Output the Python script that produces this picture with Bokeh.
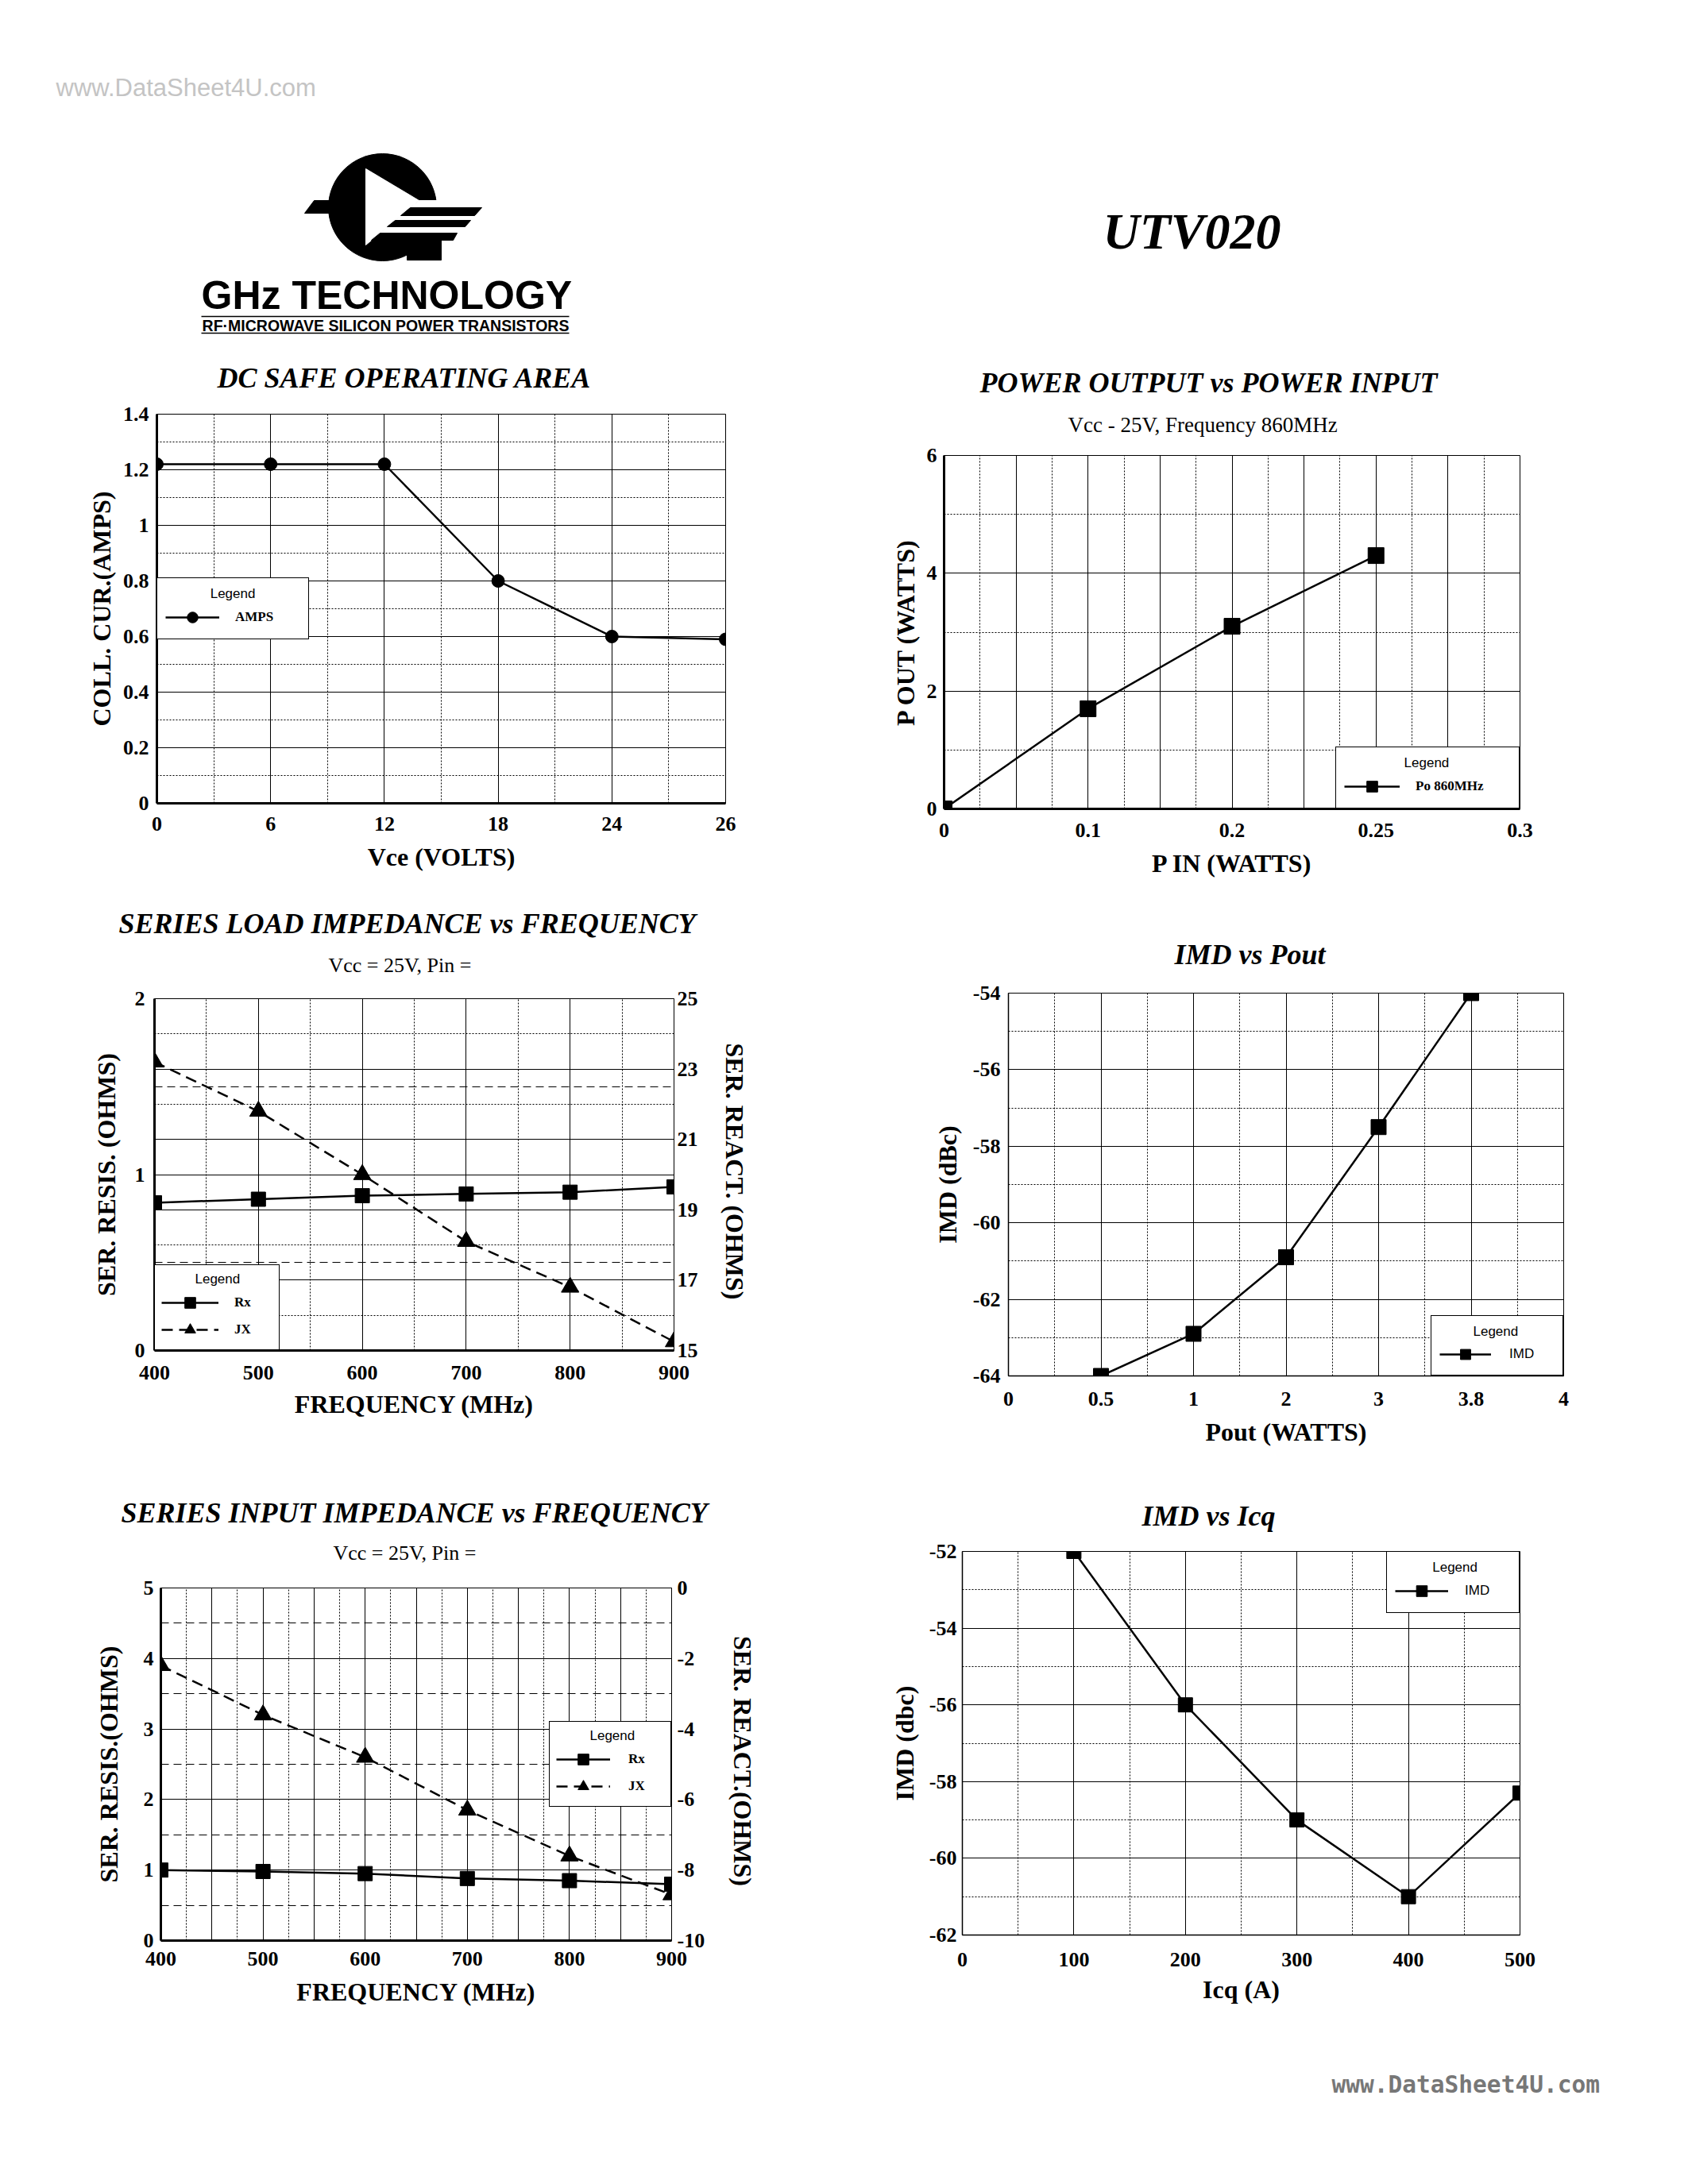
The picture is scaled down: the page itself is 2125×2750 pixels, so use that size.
from bokeh.plotting import figure
from bokeh.models import (Range1d, LinearAxis, FixedTicker, CustomJSTickFormatter, Grid,
                          Legend, LegendItem, Title)
from bokeh.layouts import column, row
from bokeh.embed import file_html
from bokeh.resources import INLINE
from bokeh.core.properties import value

SERIF = "Liberation Serif"
SANS = "Liberation Sans"

# ---------------- data ----------------
# DC safe operating area
soa_vce = [0, 6, 12, 18, 24, 26]
soa_amps = [1.22, 1.22, 1.22, 0.80, 0.60, 0.59]
soa_y_ticks = [0, 0.2, 0.4, 0.6, 0.8, 1.0, 1.2, 1.4]

# Power output vs power input
pp_pin_ticks = [0, 0.1, 0.2, 0.25, 0.3]
pp_pin = [0, 0.1, 0.2, 0.25]
pp_pout = [0, 1.7, 3.1, 4.3]
pp_y_ticks = [0, 2, 4, 6]

# Series load impedance vs frequency
load_freq = [400, 500, 600, 700, 800, 900]
load_rx = [0.84, 0.86, 0.88, 0.89, 0.90, 0.93]
load_jx = [23.2, 21.8, 20.0, 18.1, 16.8, 15.25]
load_left_ticks = [0, 1, 2]
load_right_ticks = [15, 17, 19, 21, 23, 25]
freq_ticks = [400, 500, 600, 700, 800, 900]

# IMD vs Pout
imdp_pout_ticks = [0, 0.5, 1, 2, 3, 3.8, 4]
imdp_pout = [0.5, 1, 2, 3, 3.8]
imdp_imd = [-64, -62.9, -60.9, -57.5, -54]
imdp_y_ticks = [-64, -62, -60, -58, -56, -54]

# Series input impedance vs frequency
inp_freq = [400, 500, 600, 700, 800, 900]
inp_rx = [1.0, 0.98, 0.95, 0.88, 0.85, 0.80]
inp_jx = [-2.2, -3.6, -4.8, -6.3, -7.6, -8.7]
inp_left_ticks = [0, 1, 2, 3, 4, 5]
inp_right_ticks = [-10, -8, -6, -4, -2, 0]

# IMD vs Icq
icq_vals = [100, 200, 300, 400, 500]
icq_imd = [-52, -56, -59, -61, -58.3]
icq_x_ticks = [0, 100, 200, 300, 400, 500]
icq_y_ticks = [-62, -60, -58, -56, -54, -52]


def lab(v):
    return f"{v:g}"


def fmt(vals, labels):
    return CustomJSTickFormatter(args=dict(vals=list(vals), labs=list(labels)), code="""
        for (let i = 0; i < vals.length; i++) {
            if (Math.abs(vals[i] - tick) < 1e-6) return labs[i];
        }
        return "";
    """)


def chart(page_left, page_top, width, height, frame, x_range, y_range):
    fl, fr, ft, fb = frame
    p = figure(width=width, height=height, x_range=x_range, y_range=y_range,
               output_backend="svg", toolbar_location=None, title_location=None,
               frame_align=False,
               min_border_left=fl - page_left, min_border_right=page_left + width - fr,
               min_border_top=ft - page_top, min_border_bottom=page_top + height - fb)
    p.outline_line_color = "black"
    p.outline_line_width = 1
    p.outline_line_alpha = 1
    p.background_fill_color = "white"
    p.border_fill_color = "white"
    return p


def style_axis(ax, vals, labels, label, tick_standoff, label_standoff, line_width, label_size=32):
    ax.ticker = FixedTicker(ticks=list(vals))
    ax.formatter = fmt(vals, labels)
    ax.axis_label = label
    ax.axis_label_text_font = SERIF
    ax.axis_label_text_font_size = f"{label_size}px"
    ax.axis_label_text_font_style = "bold"
    ax.axis_label_text_color = "black"
    ax.axis_label_standoff = label_standoff
    ax.major_label_text_font = SERIF
    ax.major_label_text_font_size = "26px"
    ax.major_label_text_font_style = "bold"
    ax.major_label_text_color = "black"
    ax.major_label_standoff = tick_standoff
    ax.major_tick_line_color = None
    ax.minor_tick_line_color = None
    ax.major_tick_in = 0
    ax.major_tick_out = 0
    ax.axis_line_width = line_width
    ax.axis_line_color = "black"


def style_grid(g, major, minor, minor_dash="2 2"):
    g.ticker = FixedTicker(ticks=list(major), minor_ticks=list(minor))
    g.grid_line_color = "black"
    g.grid_line_width = 1
    g.grid_line_alpha = 1
    g.minor_grid_line_color = "black"
    g.minor_grid_line_width = 1
    g.minor_grid_line_alpha = 1
    g.minor_grid_line_dash = minor_dash


def add_title(p, text, size, style, offset, standoff):
    p.add_layout(Title(text=text, align="left", offset=offset, standoff=standoff,
                       text_font=SERIF, text_font_size=f"{size}px", text_font_style=style,
                       text_color="black"), "above")


def add_legend(p, items, location, indent, glyph_w, glyph_h, label_standoff, label_width,
               padding, spacing, label_font, label_style):
    leg = Legend(items=items, location=location, title="\u00a0" * indent + "Legend",
                 margin=0, padding=padding, spacing=spacing,
                 glyph_width=glyph_w, glyph_height=glyph_h, label_height=glyph_h,
                 label_width=label_width, label_standoff=label_standoff,
                 border_line_color="black", border_line_width=1, border_line_alpha=1,
                 background_fill_color="white", background_fill_alpha=1,
                 title_text_font=SANS, title_text_font_size="17px", title_text_font_style="normal",
                 title_text_color="black", title_standoff=2,
                 label_text_font=label_font, label_text_font_size="17px",
                 label_text_font_style=label_style, label_text_color="black")
    p.add_layout(leg)


LW = 2.5
LEFT_W = 1060
RIGHT_W = 1057
PAGE_W = LEFT_W + RIGHT_W
HEAD_H = 424

# ---------------- header ----------------
header = figure(width=PAGE_W, height=HEAD_H, x_range=Range1d(0, PAGE_W), y_range=Range1d(HEAD_H, 0),
                output_backend="svg", toolbar_location=None, title_location=None,
                x_axis_type=None, y_axis_type=None, min_border=0, frame_align=False)
header.grid.visible = False
header.outline_line_color = None
header.text(x=[70], y=[110], text=["www.DataSheet4U.com"], text_font=value(SANS),
            text_font_size="31px", text_color="#c4c4c4", text_baseline="middle", text_align="left")
# logo emblem (decoration)
header.patch([395, 420, 420, 383], [252, 252, 268, 268], color="black")
header.ellipse(x=[481], y=[260.5], width=[136], height=[135], color="black")
header.patch([460, 460, 527], [212, 308, 252], color="white")
header.patch([527, 622, 622, 467], [252, 252, 302, 302], color="white")
header.patches([[516, 606, 597, 504], [497, 592, 585, 487], [478, 575, 570, 467]],
               [[261, 261, 271, 271], [277, 277, 285, 285], [293, 293, 302, 302]], color="black")
header.quad(left=[512], right=[555], top=[301], bottom=[327], color="black")
header.text(x=[253], y=[371], text=["GHz TECHNOLOGY"], text_font=value(SANS),
            text_font_size="50px", text_font_style="bold", text_color="black",
            text_baseline="middle", text_align="left")
header.segment(x0=[253, 253], y0=[398, 419], x1=[716, 716], y1=[398, 419], line_color="black", line_width=1.5)
header.text(x=[485], y=[409], text=["RF\u00b7MICROWAVE SILICON POWER TRANSISTORS"], text_font=value(SANS),
            text_font_size="19.5px", text_font_style="bold", text_color="black",
            text_baseline="middle", text_align="center")
header.text(x=[1500], y=[291], text=["UTV020"], text_font=value(SERIF),
            text_font_size="64px", text_font_style="bold italic", text_color="black",
            text_baseline="middle", text_align="center")

# ---------------- chart 1: DC SOA ----------------
soa_idx = list(range(len(soa_vce)))
c1 = chart(0, HEAD_H, LEFT_W, 1120 - HEAD_H, (197, 913, 521, 1011),
           Range1d(0, len(soa_vce) - 1), Range1d(0, 1.4))
style_axis(c1.xaxis[0], soa_idx, [lab(v) for v in soa_vce], "Vce (VOLTS)", 17, 12, 3)
style_axis(c1.yaxis[0], soa_y_ticks, [lab(v) for v in soa_y_ticks], "COLL. CUR.(AMPS)", 10, 6, 3)
style_grid(c1.xgrid[0], soa_idx, [i + 0.5 for i in soa_idx[:-1]])
style_grid(c1.ygrid[0], soa_y_ticks, [v + 0.1 for v in soa_y_ticks[:-1]])
add_title(c1, "DC SAFE OPERATING AREA", 36, "bold italic", 76, 52)
r1l = c1.line(soa_idx, soa_amps, line_color="black", line_width=LW)
r1s = c1.scatter(soa_idx, soa_amps, marker="circle", size=16, color="black")
add_legend(c1, [LegendItem(label="AMPS", renderers=[r1l, r1s])], "center_left", 12,
           68, 34, 20, 82, 10, 0, SERIF, "bold")

# ---------------- chart 2: Pout vs Pin ----------------
pp_idx = list(range(len(pp_pin_ticks)))
pp_x = [pp_pin_ticks.index(v) for v in pp_pin]
c2 = chart(LEFT_W, HEAD_H, RIGHT_W, 1120 - HEAD_H, (1188, 1913, 573, 1018),
           Range1d(0, len(pp_pin_ticks) - 1), Range1d(0, 6))
style_axis(c2.xaxis[0], pp_idx, [lab(v) for v in pp_pin_ticks], "P IN (WATTS)", 18, 12, 3)
style_axis(c2.yaxis[0], pp_y_ticks, [lab(v) for v in pp_y_ticks], "P OUT (WATTS)", 9, 6, 3)
style_grid(c2.xgrid[0], [i * 0.5 for i in range(9)], [0.25 + i * 0.5 for i in range(8)])
style_grid(c2.ygrid[0], pp_y_ticks, [1, 3, 5])
add_title(c2, "Vcc - 25V,  Frequency 860MHz", 27, "normal", 156, 48)
add_title(c2, "POWER OUTPUT vs POWER INPUT", 36, "bold italic", 45, -16)
r2l = c2.line(pp_x, pp_pout, line_color="black", line_width=LW)
r2s = c2.scatter(pp_x, pp_pout, marker="square", size=20, color="black")
add_legend(c2, [LegendItem(label="Po 860MHz", renderers=[r2l, r2s])], "bottom_right", 16,
           70, 34, 20, 120, 10, 0, SERIF, "bold")

# ---------------- chart 3: load impedance ----------------
c3 = chart(0, 1120, LEFT_W, 740, (194, 848, 1257, 1700), Range1d(400, 900), Range1d(0, 2))
c3.extra_y_ranges = {"right": Range1d(15, 25)}
style_axis(c3.xaxis[0], freq_ticks, [lab(v) for v in freq_ticks], "FREQUENCY (MHz)", 19, 10, 3)
style_axis(c3.yaxis[0], load_left_ticks, [lab(v) for v in load_left_ticks], "SER. RESIS. (OHMS)", 12, 15, 3)
ax3r = LinearAxis(y_range_name="right")
style_axis(ax3r, load_right_ticks, [lab(v) for v in load_right_ticks], "SER.  REACT. (OHMS)", 4, 25, 1)
c3.add_layout(ax3r, "right")
style_grid(c3.xgrid[0], [500, 600, 700, 800], [450, 550, 650, 750, 850])
style_grid(c3.ygrid[0], [1], [0.5, 1.5], "10 6")
g3r = Grid(dimension=1, y_range_name="right")
style_grid(g3r, [17, 19, 21, 23], [16, 18, 20, 22, 24])
c3.add_layout(g3r)
add_title(c3, "Vcc = 25V, Pin =", 26, "normal", 219, 55)
add_title(c3, "SERIES LOAD IMPEDANCE vs FREQUENCY", 36, "bold italic", -45, -22)
r3al = c3.line(load_freq, load_rx, line_color="black", line_width=LW)
r3as = c3.scatter(load_freq, load_rx, marker="square", size=18, color="black")
r3bl = c3.line(load_freq, load_jx, line_color="black", line_width=LW, line_dash="14 8", y_range_name="right")
r3bs = c3.scatter(load_freq, load_jx, marker="triangle", size=22, color="black", y_range_name="right")
add_legend(c3, [LegendItem(label="Rx", renderers=[r3al, r3as]),
                LegendItem(label="JX", renderers=[r3bl, r3bs])], "bottom_left", 9,
           72, 34, 20, 48, 8, 0, SERIF, "bold")

# ---------------- chart 4: IMD vs Pout ----------------
imdp_idx = list(range(len(imdp_pout_ticks)))
imdp_x = [imdp_pout_ticks.index(v) for v in imdp_pout]
c4 = chart(LEFT_W, 1120, RIGHT_W, 740, (1269, 1968, 1250, 1732),
           Range1d(0, len(imdp_pout_ticks) - 1), Range1d(-64, -54))
style_axis(c4.xaxis[0], imdp_idx, [lab(v) for v in imdp_pout_ticks], "Pout (WATTS)", 20, 12, 1.5)
style_axis(c4.yaxis[0], imdp_y_ticks, [lab(v) for v in imdp_y_ticks], "IMD (dBc)", 10, 11, 1.5)
style_grid(c4.xgrid[0], imdp_idx, [i + 0.5 for i in imdp_idx[:-1]])
style_grid(c4.ygrid[0], imdp_y_ticks, [v + 1 for v in imdp_y_ticks[:-1]])
add_title(c4, "IMD vs Pout", 36, "bold italic", 209, 58)
r4l = c4.line(imdp_x, imdp_imd, line_color="black", line_width=LW)
r4s = c4.scatter(imdp_x, imdp_imd, marker="square", size=19, color="black")
add_legend(c4, [LegendItem(label="IMD", renderers=[r4l, r4s])], "bottom_right", 9,
           65, 32, 23, 57, 10, 0, SANS, "normal")

# ---------------- chart 5: input impedance ----------------
c5 = chart(0, 1860, LEFT_W, 700, (202, 845, 1999, 2443), Range1d(400, 900), Range1d(0, 5))
c5.extra_y_ranges = {"right": Range1d(-10, 0)}
style_axis(c5.xaxis[0], freq_ticks, [lab(v) for v in freq_ticks], "FREQUENCY (MHz)", 14, 12, 3)
style_axis(c5.yaxis[0], inp_left_ticks, [lab(v) for v in inp_left_ticks], "SER. RESIS.(OHMS)", 9, 23, 3)
ax5r = LinearAxis(y_range_name="right")
style_axis(ax5r, inp_right_ticks, [lab(v) for v in inp_right_ticks], "SER.  REACT.(OHMS)", 7, 27, 1)
c5.add_layout(ax5r, "right")
style_grid(c5.xgrid[0], [450 + 50 * i for i in range(9)], [425 + 50 * i for i in range(10)])
style_grid(c5.ygrid[0], [1, 2, 3, 4], [0.5, 1.5, 2.5, 3.5, 4.5], "10 6")
add_title(c5, "Vcc = 25V, Pin =", 26, "normal", 217, 59)
add_title(c5, "SERIES INPUT IMPEDANCE vs FREQUENCY", 36, "bold italic", -50, -30)
r5al = c5.line(inp_freq, inp_rx, line_color="black", line_width=LW)
r5as = c5.scatter(inp_freq, inp_rx, marker="square", size=18, color="black")
r5bl = c5.line(inp_freq, inp_jx, line_color="black", line_width=LW, line_dash="14 8", y_range_name="right")
r5bs = c5.scatter(inp_freq, inp_jx, marker="triangle", size=22, color="black", y_range_name="right")
add_legend(c5, [LegendItem(label="Rx", renderers=[r5al, r5as]),
                LegendItem(label="JX", renderers=[r5bl, r5bs])], "center_right", 9,
           68, 34, 23, 45, 8, 0, SERIF, "bold")

# ---------------- chart 6: IMD vs Icq ----------------
c6 = chart(LEFT_W, 1860, RIGHT_W, 700, (1211, 1913, 1953, 2436), Range1d(0, 500), Range1d(-62, -52))
style_axis(c6.xaxis[0], icq_x_ticks, [lab(v) for v in icq_x_ticks], "Icq (A)", 22, 8, 1.5)
style_axis(c6.yaxis[0], icq_y_ticks, [lab(v) for v in icq_y_ticks], "IMD (dbc)", 7, 10, 1.5)
style_grid(c6.xgrid[0], icq_x_ticks, [v + 50 for v in icq_x_ticks[:-1]])
style_grid(c6.ygrid[0], icq_y_ticks, [v + 1 for v in icq_y_ticks[:-1]])
add_title(c6, "IMD vs Icq", 36, "bold italic", 226, 50)
r6l = c6.line(icq_vals, icq_imd, line_color="black", line_width=LW)
r6s = c6.scatter(icq_vals, icq_imd, marker="square", size=18, color="black")
add_legend(c6, [LegendItem(label="IMD", renderers=[r6l, r6s])], "top_right", 10,
           67, 34, 21, 58, 10, 0, SANS, "normal")

# ---------------- footer ----------------
footer = figure(width=PAGE_W, height=180, x_range=Range1d(0, PAGE_W), y_range=Range1d(2740, 2560),
                output_backend="svg", toolbar_location=None, title_location=None,
                x_axis_type=None, y_axis_type=None, min_border=0, frame_align=False)
footer.grid.visible = False
footer.outline_line_color = None
footer.text(x=[1676], y=[2624], text=["www.DataSheet4U.com"], text_font=value("DejaVu Sans Mono"),
            text_font_size="29.5px", text_font_style="bold", text_color="#777777",
            text_baseline="middle", text_align="left")

layout = column(header, row(c1, c2), row(c3, c4), row(c5, c6), footer)

with open("out.html", "w") as f:
    f.write(file_html(layout, INLINE, "UTV020"))
